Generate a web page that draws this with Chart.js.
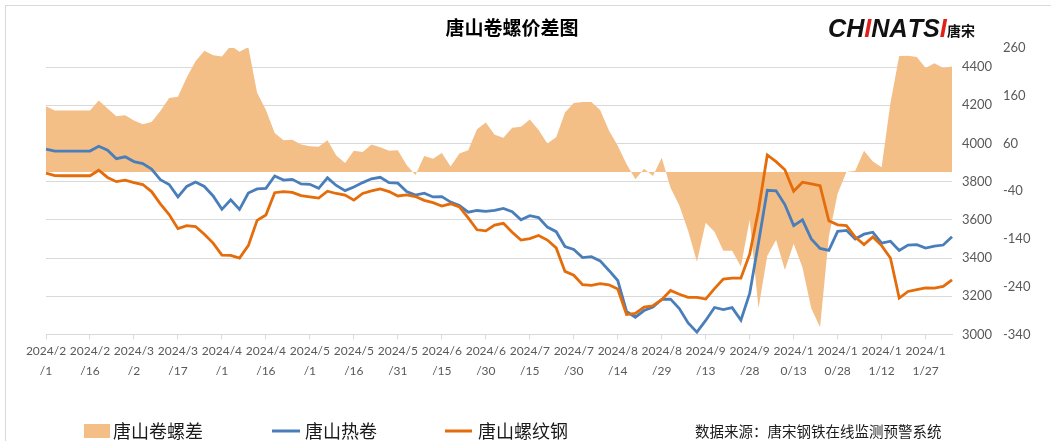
<!DOCTYPE html>
<html>
<head>
<meta charset="utf-8">
<title>唐山卷螺价差图</title>
<script src="https://cdn.jsdelivr.net/npm/chart.js@4.4.1/dist/chart.umd.min.js"></script>
<style>
    html, body { margin: 0; padding: 0; background: #fff; }
</style>
</head>
<body>
<canvas id="chart1" width="1051" height="441"></canvas>
<script>
// fechas (cada 3 dias)
var dates = [
    '2024/2/1', '2024/2/4', '2024/2/7', '2024/2/10', '2024/2/13', '2024/2/16', '2024/2/19', '2024/2/22', '2024/2/25', '2024/2/28',
    '2024/3/2', '2024/3/5', '2024/3/8', '2024/3/11', '2024/3/14', '2024/3/17', '2024/3/20', '2024/3/23', '2024/3/26', '2024/3/29',
    '2024/4/1', '2024/4/4', '2024/4/7', '2024/4/10', '2024/4/13', '2024/4/16', '2024/4/19', '2024/4/22', '2024/4/25', '2024/4/28',
    '2024/5/1', '2024/5/4', '2024/5/7', '2024/5/10', '2024/5/13', '2024/5/16', '2024/5/19', '2024/5/22', '2024/5/25', '2024/5/28',
    '2024/5/31', '2024/6/3', '2024/6/6', '2024/6/9', '2024/6/12', '2024/6/15', '2024/6/18', '2024/6/21', '2024/6/24', '2024/6/27',
    '2024/6/30', '2024/7/3', '2024/7/6', '2024/7/9', '2024/7/12', '2024/7/15', '2024/7/18', '2024/7/21', '2024/7/24', '2024/7/27',
    '2024/7/30', '2024/8/2', '2024/8/5', '2024/8/8', '2024/8/11', '2024/8/14', '2024/8/17', '2024/8/20', '2024/8/23', '2024/8/26',
    '2024/8/29', '2024/9/1', '2024/9/4', '2024/9/7', '2024/9/10', '2024/9/13', '2024/9/16', '2024/9/19', '2024/9/22', '2024/9/25',
    '2024/9/28', '2024/10/1', '2024/10/4', '2024/10/7', '2024/10/10', '2024/10/13', '2024/10/16', '2024/10/19', '2024/10/22', '2024/10/25',
    '2024/10/28', '2024/10/31', '2024/11/3', '2024/11/6', '2024/11/9', '2024/11/12', '2024/11/15', '2024/11/18', '2024/11/21', '2024/11/24',
    '2024/11/27', '2024/11/30', '2024/12/3', '2024/12/6'
];

// 唐山卷螺差 (eje derecho)
var spread = [
    138, 129, 129, 129, 129, 129, 150, 133, 117, 119,
    108, 100, 105, 128, 155, 158, 198, 232, 254, 245,
    242, 265, 252, 262, 166, 130, 82, 67, 68, 58,
    54, 53, 67, 35, 19, 45, 42, 58, 52, 45,
    46, 15, -6, 34, 28, 40, 12, 39, 46, 90,
    104, 78, 72, 93, 95, 110, 88, 60, 73, 125,
    145, 147, 147, 130, 87, 55, 17, -15, 7, -8,
    30, -33, -70, -123, -188, -106, -125, -165, -165, -198,
    -100, -285, -175, -142, -205, -150, -200, -285, -325, -135,
    -45, 0, 3, 45, 22, 10, 145, 243, 244, 241,
    218, 228, 218, 221
];

// 唐山热卷
var hrc = [
    3970, 3960, 3960, 3960, 3960, 3960, 3985, 3965, 3920, 3930,
    3905, 3895, 3866, 3810, 3785, 3720, 3775, 3798, 3775, 3725,
    3655, 3705, 3655, 3740, 3762, 3765, 3830, 3808, 3812, 3788,
    3786, 3765, 3820, 3780, 3753, 3772, 3795, 3815, 3823, 3795,
    3792, 3748, 3730, 3740, 3720, 3722, 3693, 3675, 3640, 3649,
    3644, 3649, 3660, 3643, 3600, 3622, 3612, 3562, 3538, 3460,
    3445, 3402, 3407, 3385, 3335, 3282, 3120, 3090, 3125, 3143,
    3183, 3185, 3135, 3060, 3012, 3073, 3141, 3130, 3140, 3075,
    3215, 3480, 3755, 3752, 3680, 3570, 3600, 3500, 3450, 3440,
    3540, 3545, 3500, 3525, 3535, 3478, 3488, 3440, 3468, 3470,
    3452, 3462, 3468, 3511
];

// 唐山螺纹钢
var rebar = [
    3845, 3832, 3831, 3831, 3831, 3831, 3860, 3822, 3800, 3808,
    3795, 3785, 3748, 3684, 3628, 3554, 3570, 3565, 3525, 3478,
    3415, 3414, 3400, 3465, 3597, 3625, 3742, 3748, 3744, 3727,
    3720, 3714, 3750, 3738, 3730, 3703, 3738, 3752, 3762, 3748,
    3725, 3731, 3722, 3702, 3690, 3672, 3684, 3668, 3610, 3548,
    3542, 3572, 3582, 3535, 3494, 3502, 3518, 3494, 3453, 3330,
    3310, 3260, 3257, 3266, 3260, 3238, 3104, 3110, 3143, 3150,
    3182, 3230, 3210, 3194, 3194, 3185, 3240, 3290, 3295, 3295,
    3420, 3650, 3940, 3905, 3862, 3750, 3797, 3788, 3779, 3595,
    3574, 3570, 3510, 3470, 3510, 3465, 3400, 3190, 3225, 3234,
    3244, 3242, 3251, 3286
];

var seriesNames = ['唐山卷螺差', '唐山热卷', '唐山螺纹钢'];
var colorArea = '#F4BE87';
var colorHrc = '#4A7EBB';
var colorRebar = '#E46C0A';
var fontFam = 'Lato, "Noto Sans CJK SC", sans-serif';
var cjk = '"Noto Sans CJK SC", sans-serif';

// titulo, logo, leyenda y fuente
var extras = {
    id: 'extras',
    beforeDraw: function (chart) {
        var c = chart.ctx;
        c.save();
        c.fillStyle = '#fff';
        c.fillRect(0, 0, chart.width, chart.height);
        c.strokeStyle = '#d9d9d9';
        c.lineWidth = 1;
        c.strokeRect(5.5, 5.5, chart.width, chart.height);
        c.restore();
    },
    afterDraw: function (chart) {
        var c = chart.ctx;
        var ds = chart.data.datasets;
        c.save();
        c.textBaseline = 'middle';

        c.fillStyle = '#000';
        c.textAlign = 'center';
        c.font = 'bold 19px ' + cjk;
        c.fillText('唐山卷螺价差图', 512, 28);

        // logo
        c.textAlign = 'left';
        c.textBaseline = 'alphabetic';
        c.font = 'italic bold 25px "Liberation Sans", sans-serif';
        var letters = 'CHINATSI';
        var w = c.measureText(letters).width;
        var k = 117 / w;
        c.save();
        c.translate(828, 37);
        c.scale(k, 1);
        var x = 0;
        for (var i = 0; i < letters.length; i++) {
            c.fillStyle = (i === 2 || i === 7) ? '#E0201B' : '#111';
            c.fillText(letters[i], x, 0);
            x += c.measureText(letters[i]).width;
        }
        c.restore();
        c.fillStyle = '#111';
        c.font = 'bold 14px ' + cjk;
        c.fillText('唐宋', 947, 36);

        // leyenda
        c.textBaseline = 'middle';
        var ly = 431;
        c.fillStyle = ds[0].backgroundColor;
        c.fillRect(84, 424, 26, 14);
        c.lineWidth = 3;
        c.strokeStyle = ds[1].borderColor;
        c.beginPath(); c.moveTo(272, ly); c.lineTo(300, ly); c.stroke();
        c.strokeStyle = ds[2].borderColor;
        c.beginPath(); c.moveTo(445, ly); c.lineTo(472, ly); c.stroke();
        c.fillStyle = '#1a1a1a';
        c.font = '18px ' + cjk;
        c.fillText(ds[0].label, 113, ly);
        c.fillText(ds[1].label, 305, ly);
        c.fillText(ds[2].label, 478, ly);
        c.font = '14.5px ' + cjk;
        c.fillText('数据来源：唐宋钢铁在线监测预警系统', 695, ly);
        c.restore();
    }
};

document.addEventListener('DOMContentLoaded', function () {
    var ctx1 = document.getElementById('chart1').getContext('2d');
    var chart1 = new Chart(ctx1, {
        type: 'line',
        data: {
            labels: dates,
            datasets: [{
                label: seriesNames[0],
                data: spread,
                yAxisID: 'y2',
                fill: 'origin',
                backgroundColor: colorArea,
                borderColor: 'rgba(0,0,0,0)',
                borderWidth: 0,
                pointRadius: 0,
                tension: 0,
                order: 3
            }, {
                label: seriesNames[1],
                data: hrc,
                yAxisID: 'y',
                fill: false,
                borderColor: colorHrc,
                backgroundColor: colorHrc,
                borderWidth: 2.8,
                pointRadius: 0,
                tension: 0,
                order: 2
            }, {
                label: seriesNames[2],
                data: rebar,
                yAxisID: 'y',
                fill: false,
                borderColor: colorRebar,
                backgroundColor: colorRebar,
                borderWidth: 2.8,
                pointRadius: 0,
                tension: 0,
                order: 1
            }]
        },
        options: {
            responsive: false,
            animation: false,
            layout: { padding: { left: 46, right: 9, top: 48, bottom: 58 } },
            plugins: {
                legend: { display: false },
                title: { display: false },
                tooltip: { enabled: false }
            },
            scales: {
                x: {
                    type: 'category',
                    offset: false,
                    grid: { display: true, drawOnChartArea: false, drawTicks: true, tickLength: 5, color: '#d9d9d9' },
                    border: { display: true, color: '#d9d9d9' },
                    ticks: {
                        autoSkip: false,
                        maxRotation: 0,
                        minRotation: 0,
                        padding: 2,
                        color: '#595959',
                        font: { family: fontFam, size: 12, lineHeight: 1.65 },
                        callback: function (value, index) {
                            if (index % 5 !== 0) return null;
                            var s = this.getLabelForValue(value);
                            return [s.slice(0, 6), s.slice(6)];
                        }
                    }
                },
                y: {
                    position: 'right',
                    weight: 0,
                    min: 3000,
                    max: 4500,
                    grid: { color: '#d9d9d9', drawTicks: false },
                    border: { display: false },
                    ticks: {
                        stepSize: 200, padding: 10, color: '#595959', font: { family: fontFam, size: 13 },
                        callback: function (v) { return String(v); }
                    },
                    afterBuildTicks: function (scale) {
                        scale.ticks = scale.ticks.filter(function (t) { return t.value % 200 === 0; });
                    },
                    afterFit: function (scale) { scale.width = 40; }
                },
                y2: {
                    position: 'right',
                    weight: 1,
                    min: -340,
                    max: 260,
                    grid: { display: false, drawTicks: false },
                    border: { display: false },
                    ticks: {
                        stepSize: 100, padding: 11, color: '#595959', font: { family: fontFam, size: 13 },
                        callback: function (v) { return String(v); }
                    },
                    afterFit: function (scale) { scale.width = 50; }
                }
            }
        },
        plugins: [extras]
    });
});
</script>
</body>
</html>
